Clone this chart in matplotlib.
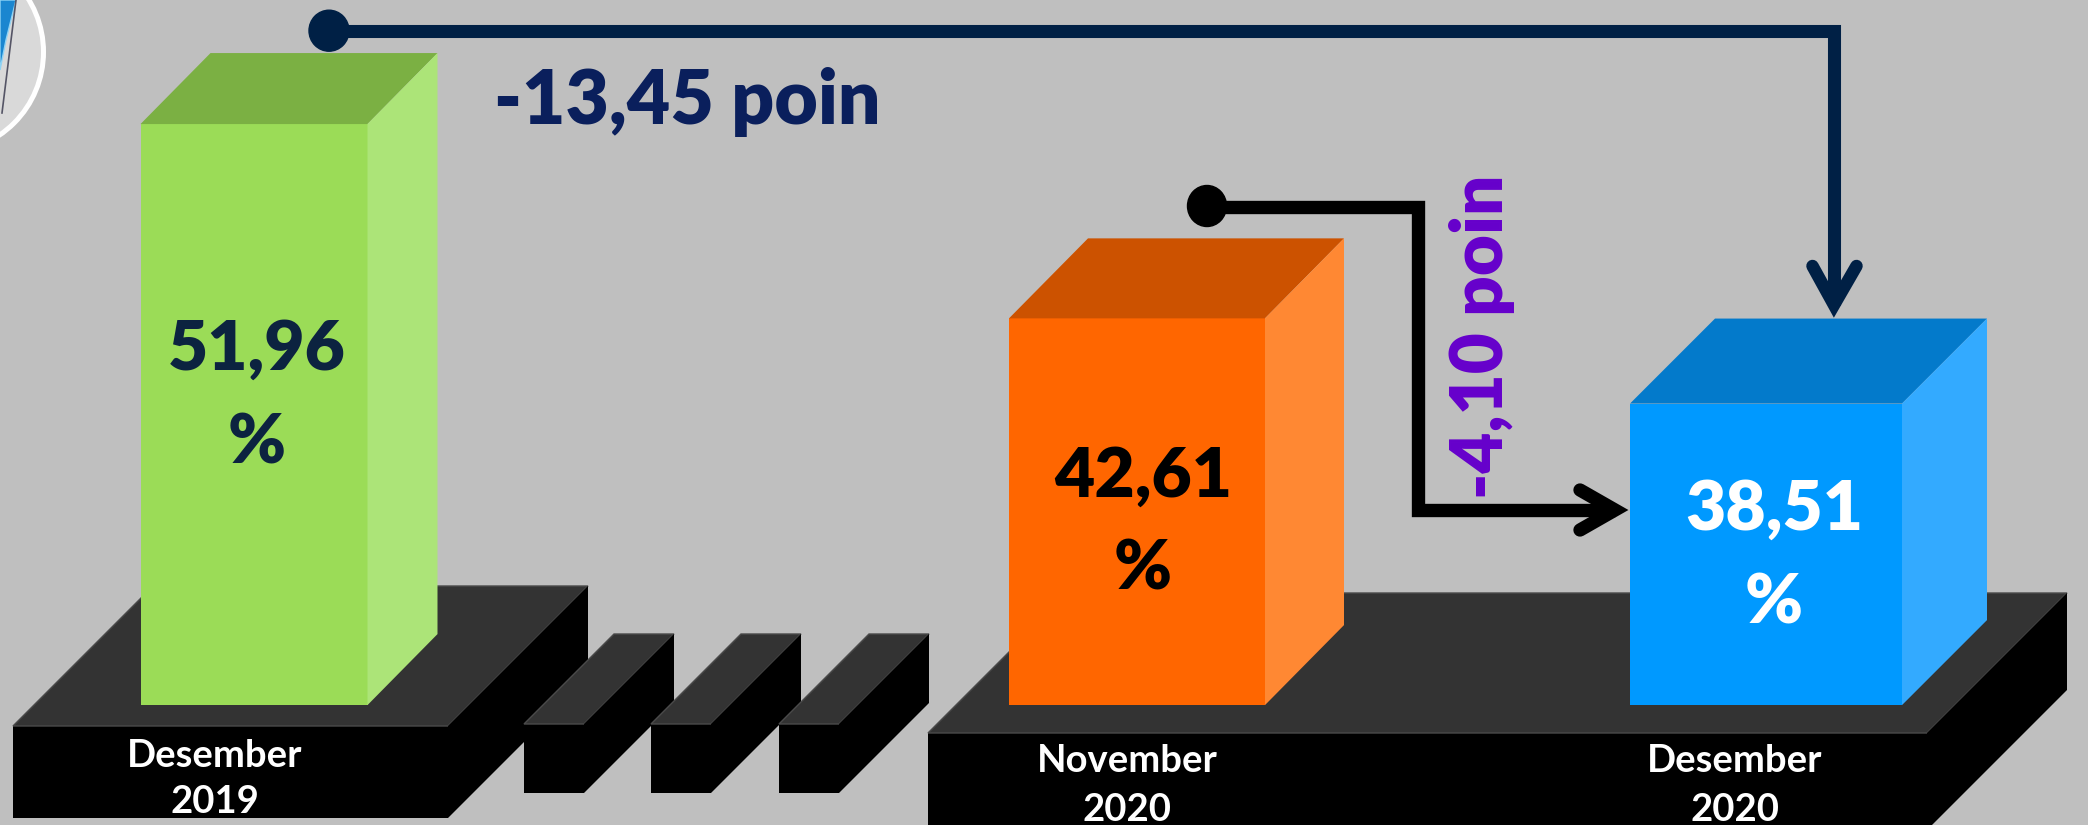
import matplotlib
matplotlib.use("Agg")
import matplotlib.pyplot as plt
from matplotlib.patches import Polygon, Ellipse

# data
categories = ["Desember\n2019", "November\n2020", "Desember\n2020"]
values = [51.96, 42.61, 38.51]
change_labels = ["-13,45 poin", "-4,10 poin"]

# styles
front_colors = ["#9bdc57", "#ff6600", "#0099ff"]
top_colors = ["#7bb043", "#cc5200", "#037acb"]
side_colors = ["#ace478", "#ff8833", "#33aaff"]
label_colors = ["#0c2340", "#000000", "#ffffff"]

# layout (x in pixels, y in percent units)
W, H = 2088, 825
BASE = 24.0
Y_TOP, Y_BOT = 57.93, 18.23
bar_x = [254, 1137, 1766]
bar_w = [227, 256, 272]
bar_depth = [(70, 71), (79, 80), (85, 85)]
val_x = [257, 1143, 1774]
val_base = [370, 497, 530]
pct_base = [463, 590, 623]
cat_x = [215, 1127, 1735]
cat_base = [(767, 813), (772, 821), (772, 821)]


def dy(px):
    return px * (Y_TOP - Y_BOT) / H


def ypx(p):
    return Y_TOP - dy(p)


FONT = "Lato"

fig = plt.figure(figsize=(W / 100, H / 100), dpi=100)
fig.patch.set_facecolor("#bfbfbf")
ax = fig.add_axes([0, 0, 1, 1])
ax.set_xlim(0, W)
ax.set_ylim(Y_BOT, Y_TOP)
ax.axis("off")

# logo circle in the corner
ax.add_patch(Ellipse((-57, ypx(52)), 201, dy(201), facecolor="#d9d9d9",
                     edgecolor="white", lw=3.6, zorder=1))
ax.add_patch(Polygon([(0, ypx(0)), (16, ypx(0)), (6, ypx(40)), (0, ypx(70))],
                     closed=True, facecolor="#1a86d0", edgecolor="#8fd3f5", lw=1, zorder=1))
ax.plot([16, 2], [ypx(0), ypx(113)], color="#555566", lw=1.2, zorder=1)


def box(x0, x1, top, bottom, ddx, ddy, z):
    # front, top, right side of a platform block
    yt, yb, d = ypx(top), ypx(bottom), dy(ddy)
    ax.add_patch(Polygon([(x0, yb), (x1, yb), (x1, yt), (x0, yt)], closed=True,
                         facecolor="black", edgecolor="none", zorder=z))
    ax.add_patch(Polygon([(x0, yt), (x1, yt), (x1 + ddx, yt + d), (x0 + ddx, yt + d)],
                         closed=True, facecolor="#333333", edgecolor="#4a4a4a", lw=1, zorder=z))
    ax.add_patch(Polygon([(x1, yb), (x1, yt), (x1 + ddx, yt + d), (x1 + ddx, yb + d)],
                         closed=True, facecolor="black", edgecolor="none", zorder=z))


box(13, 448, 726, 818, 140, 140, 2)
for bx in [524, 651, 779]:
    box(bx, bx + 60, 724, 793, 90, 90, 2)
box(928, 1927, 733, 830, 140, 140, 2)

# 3d bars
heights = [v - BASE for v in values]
ax.bar(bar_x, heights, bottom=BASE, width=bar_w, color=front_colors, zorder=4)
for i, v in enumerate(values):
    x0 = bar_x[i] - bar_w[i] / 2
    x1 = bar_x[i] + bar_w[i] / 2
    ddx, ddy = bar_depth[i]
    d = dy(ddy)
    ax.add_patch(Polygon([(x0, v), (x1, v), (x1 + ddx, v + d), (x0 + ddx, v + d)],
                         closed=True, facecolor=top_colors[i], edgecolor="none", zorder=4))
    ax.add_patch(Polygon([(x1, BASE), (x1, v), (x1 + ddx, v + d), (x1 + ddx, BASE + d)],
                         closed=True, facecolor=side_colors[i], edgecolor="none", zorder=4))
    num = f"{v:.2f}".replace(".", ",")
    ax.text(val_x[i], ypx(val_base[i]), num, ha="center", va="baseline",
            fontsize=50, fontweight="heavy", family=FONT, color=label_colors[i], zorder=6)
    ax.text(val_x[i], ypx(pct_base[i]), "%", ha="center", va="baseline",
            fontsize=50, fontweight="heavy", family=FONT, color=label_colors[i], zorder=6)
    line1, line2 = categories[i].split("\n")
    ax.text(cat_x[i], ypx(cat_base[i][0]), line1, ha="center", va="baseline",
            fontsize=27.5, fontweight="bold", family=FONT, color="white", zorder=6)
    ax.text(cat_x[i], ypx(cat_base[i][1]), line2, ha="center", va="baseline",
            fontsize=27.5, fontweight="bold", family=FONT, color="white", zorder=6)

# connector: Desember 2019 -> Desember 2020
navy = "#002045"
ax.plot([329, 1834, 1834], [ypx(30.7), ypx(30.7), ypx(305)], color=navy, lw=9.4,
        solid_joinstyle="miter", solid_capstyle="butt", zorder=5)
ax.plot([1812.5, 1834, 1856.5], [ypx(266), ypx(305), ypx(266)], color=navy, lw=9,
        solid_joinstyle="miter", solid_capstyle="round", zorder=5)
ax.add_patch(Ellipse((329, ypx(30.7)), 40, dy(41), color=navy, zorder=5))
ax.text(494, ypx(124), change_labels[0], ha="left", va="baseline", fontsize=54,
        fontweight="heavy", family=FONT, color="#0a1f5c", zorder=6)

# connector: November 2020 -> Desember 2020
ax.plot([1207, 1418, 1418, 1615], [ypx(206.7), ypx(206.7), ypx(510), ypx(510)],
        color="black", lw=9.6, solid_joinstyle="miter", solid_capstyle="butt", zorder=5)
ax.plot([1580, 1615, 1580], [ypx(490), ypx(510), ypx(530)], color="black", lw=9.6,
        solid_joinstyle="miter", solid_capstyle="round", zorder=5)
ax.add_patch(Ellipse((1207, ypx(206)), 39, dy(41), color="black", zorder=5))
ax.text(1482, ypx(337), change_labels[1], ha="center", va="center", rotation=90,
        fontsize=51, fontweight="heavy", family=FONT, color="#6600cc", zorder=6)

fig.savefig("out.png", dpi=100, facecolor=fig.get_facecolor())
